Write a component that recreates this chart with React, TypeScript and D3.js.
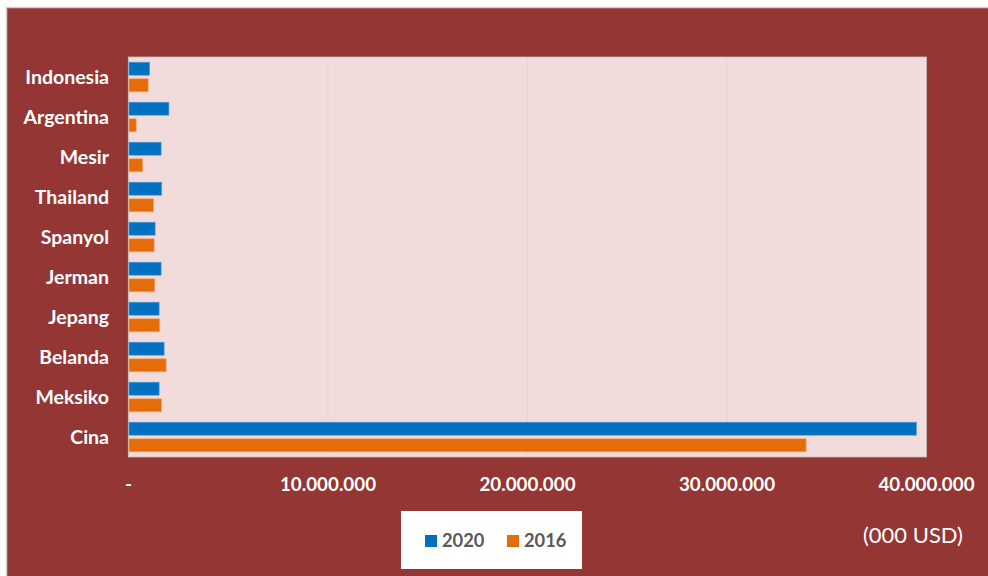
import React, { useEffect, useRef } from "react";
import * as d3 from "d3";

const categories = ["Indonesia", "Argentina", "Mesir", "Thailand", "Spanyol", "Jerman", "Jepang", "Belanda", "Meksiko", "Cina"];
const values2020 = [1030000, 2000000, 1610000, 1640000, 1310000, 1610000, 1510000, 1760000, 1510000, 39470000];
const values2016 = [960000, 360000, 680000, 1230000, 1260000, 1290000, 1540000, 1860000, 1630000, 33940000];
const seriesNames = ["2020", "2016"];
const xTicks = [0, 10000000, 20000000, 30000000, 40000000];
const unitLabel = "(000 USD)";

const W = 988, H = 576;
const plot = { left: 128.5, right: 926.5, top: 57, bottom: 457 };
const COLORS = ["#0070C0", "#E46C0A"];
const STROKES = ["#5B9BD5", "#F4A460"];
const FONT = "Lato, 'Open Sans', sans-serif";

function fmt(v: number) {
  if (v === 0) return "-";
  return d3.format(",")(v).replace(/,/g, ".");
}

export default function App() {
  const ref = useRef<SVGSVGElement>(null);
  useEffect(() => {
    const svg = d3.select(ref.current);
    svg.selectAll("*").remove();

    // outer background
    svg.append("rect").attr("x", 6.5).attr("y", 7.5).attr("width", W).attr("height", H)
      .attr("fill", "#943634").attr("stroke", "#D0D0D0").attr("stroke-width", 1.5);

    const x = d3.scaleLinear().domain([0, 40000000]).range([plot.left, plot.right]);
    const y = d3.scaleBand<string>().domain(categories).range([plot.top, plot.bottom]);

    // plot area
    svg.append("rect").attr("x", plot.left).attr("y", plot.top)
      .attr("width", plot.right - plot.left).attr("height", plot.bottom - plot.top)
      .attr("fill", "#F2DCDB").attr("stroke", "#BFBFBF").attr("stroke-width", 0.8);

    // gridlines
    svg.append("g").selectAll("line").data(xTicks.slice(1, -1)).join("line")
      .attr("x1", d => x(d)).attr("x2", d => x(d))
      .attr("y1", plot.top).attr("y2", plot.bottom)
      .attr("stroke", "#D9D9D9").attr("stroke-width", 1);

    // axis line on left
    svg.append("line").attr("x1", plot.left).attr("x2", plot.left)
      .attr("y1", plot.top).attr("y2", plot.bottom).attr("stroke", "#BFBFBF").attr("stroke-width", 1.2);

    const series = [values2020, values2016];
    const barH = 13;
    const offsets = [-14.8, 1.8];
    series.forEach((vals, si) => {
      svg.append("g").selectAll("rect").data(categories).join("rect")
        .attr("x", x(0) + 0.5)
        .attr("y", c => (y(c) as number) + y.bandwidth() / 2 + offsets[si])
        .attr("width", (c, i) => x(vals[i]) - x(0))
        .attr("height", barH)
        .attr("fill", COLORS[si])
        .attr("stroke", STROKES[si]).attr("stroke-width", 0.7);
    });

    // category labels
    svg.append("g").selectAll("text").data(categories).join("text")
      .attr("x", 109).attr("y", c => (y(c) as number) + y.bandwidth() / 2)
      .attr("dy", "0.35em").attr("text-anchor", "end")
      .attr("fill", "#FFFFFF").attr("font-family", FONT).attr("font-weight", "bold")
      .attr("font-size", 19.5).text(c => c);

    // x tick labels
    svg.append("g").selectAll("text").data(xTicks).join("text")
      .attr("x", d => x(d)).attr("y", 484).attr("dy", "0.35em").attr("text-anchor", "middle")
      .attr("fill", "#FFFFFF").attr("font-family", FONT).attr("font-weight", "bold")
      .attr("font-size", 18.8).text(d => fmt(d));

    // legend
    const lg = svg.append("g");
    lg.append("rect").attr("x", 401).attr("y", 511).attr("width", 181).attr("height", 58).attr("fill", "#FFFFFF");
    const lx = [425, 507];
    seriesNames.forEach((n, i) => {
      lg.append("rect").attr("x", lx[i]).attr("y", 535).attr("width", 12).attr("height", 12).attr("fill", COLORS[i]);
      lg.append("text").attr("x", lx[i] + 17).attr("y", 541).attr("dy", "0.35em")
        .attr("fill", "#595959").attr("font-family", FONT).attr("font-weight", "bold")
        .attr("font-size", 18.3).text(n);
    });

    svg.append("text").attr("x", 963).attr("y", 535).attr("dy", "0.35em").attr("text-anchor", "end")
      .attr("fill", "#FFFFFF").attr("font-family", FONT).attr("font-size", 22).text(unitLabel);
  }, []);
  return (
    <svg ref={ref} width={W} height={H} style={{ position: "absolute", left: 0, top: 0, display: "block" }} />
  );
}
